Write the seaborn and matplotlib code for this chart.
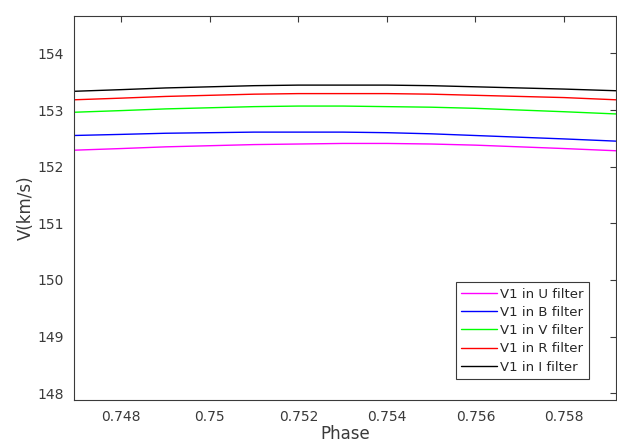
import matplotlib
matplotlib.use("Agg")
import matplotlib.pyplot as plt
import seaborn as sns
import pandas as pd

# phase samples
phase = [0.7469, 0.748, 0.749, 0.750, 0.751, 0.752, 0.753,
         0.754, 0.755, 0.756, 0.757, 0.758, 0.7592]

v_u = [152.29, 152.32, 152.35, 152.37, 152.39, 152.40, 152.41,
       152.41, 152.40, 152.38, 152.35, 152.32, 152.28]
v_b = [152.55, 152.57, 152.59, 152.60, 152.61, 152.61, 152.61,
       152.60, 152.58, 152.55, 152.52, 152.49, 152.45]
v_v = [152.96, 152.99, 153.02, 153.04, 153.06, 153.07, 153.07,
       153.06, 153.05, 153.03, 153.00, 152.97, 152.93]
v_r = [153.18, 153.21, 153.24, 153.26, 153.28, 153.29, 153.29,
       153.29, 153.28, 153.26, 153.24, 153.22, 153.18]
v_i = [153.33, 153.36, 153.39, 153.41, 153.43, 153.44, 153.44,
       153.44, 153.43, 153.41, 153.39, 153.37, 153.34]

labels = ['V1 in U filter', 'V1 in B filter', 'V1 in V filter',
          'V1 in R filter', 'V1 in I filter']
colors = ['#ff00ff', '#0000ff', '#00ff00', '#ff0000', '#000000']

x_ticks = [0.748, 0.75, 0.752, 0.754, 0.756, 0.758]
x_tick_labels = ['0.748', '0.75', '0.752', '0.754', '0.756', '0.758']
y_ticks = [148, 149, 150, 151, 152, 153, 154]

# long-form table for seaborn
frames = []
for lab, vals in zip(labels, [v_u, v_b, v_v, v_r, v_i]):
    frames.append(pd.DataFrame({'Phase': phase, 'V': vals, 'series': lab}))
df = pd.concat(frames, ignore_index=True)

sns.set_theme(style='white')
plt.rcParams['font.family'] = ['DejaVu Sans']

fig = plt.figure(figsize=(6.17, 4.46), dpi=100)
ax = fig.add_axes([0.1199, 0.1031, 0.8785, 0.861])

sns.lineplot(data=df, x='Phase', y='V', hue='series', hue_order=labels,
             palette=colors, linewidth=1.0, ax=ax)

ax.set_xlim(0.74693, 0.759175)
ax.set_ylim(147.88, 154.66)
ax.set_xticks(x_ticks)
ax.set_xticklabels(x_tick_labels)
ax.set_yticks(y_ticks)

ax.tick_params(direction='in', length=4, width=0.8, colors='#3a3a3a',
               labelsize=10, top=True, right=True, labelcolor='#3a3a3a', pad=7)
for sp in ax.spines.values():
    sp.set_color('#3a3a3a')
    sp.set_linewidth(0.8)

ax.set_xlabel('Phase', fontsize=12, color='#3a3a3a', labelpad=1)
ax.set_ylabel('V(km/s)', fontsize=12, color='#3a3a3a', labelpad=2)

leg = ax.legend(loc='lower right', bbox_to_anchor=(0.950, 0.055),
                borderaxespad=0, fontsize=9.5, frameon=True, fancybox=False,
                framealpha=1, edgecolor='#3a3a3a', handlelength=2.7,
                handletextpad=0.25, labelspacing=0.4, borderpad=0.4)
leg.get_frame().set_linewidth(0.8)

fig.savefig('out.png', dpi=100)
